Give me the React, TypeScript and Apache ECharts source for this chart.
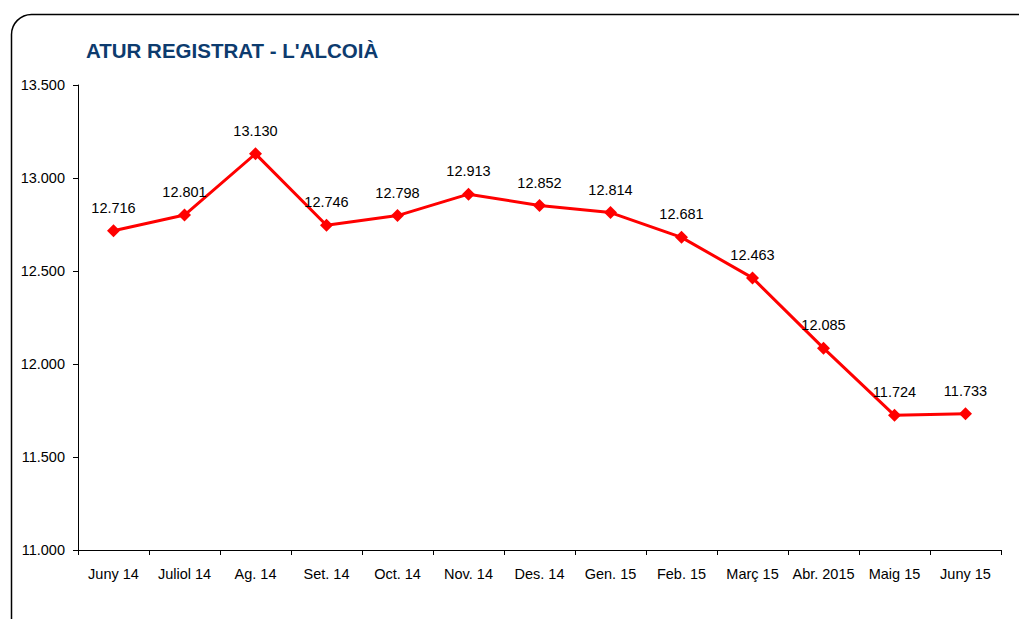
import React, { useEffect, useRef } from "react";
import * as echarts from "echarts";

const categories = [
  "Juny 14", "Juliol 14", "Ag. 14", "Set. 14", "Oct. 14", "Nov. 14", "Des. 14",
  "Gen. 15", "Feb. 15", "Març 15", "Abr. 2015", "Maig 15", "Juny 15",
];
const values = [12716, 12801, 13130, 12746, 12798, 12913, 12852, 12814, 12681, 12463, 12085, 11724, 11733];
const yMin = 11000;
const yMax = 13500;
const yInterval = 500;
const title = "ATUR REGISTRAT - L'ALCOIÀ";

const fmt = (v: number) => String(Math.round(v)).replace(/\B(?=(\d{3})+(?!\d))/g, ".");

export default function App() {
  const ref = useRef<HTMLDivElement>(null);
  useEffect(() => {
    if (!ref.current) return;
    const chart = echarts.init(ref.current, null, { renderer: "svg" });
    const font = "Arial, 'Liberation Sans', sans-serif";
    chart.setOption({
      animation: false,
      backgroundColor: "#ffffff",
      textStyle: { fontFamily: font },
      graphic: [
        {
          type: "rect",
          left: 9,
          top: 12,
          shape: { width: 1040, height: 640, r: 20 },
          style: { fill: "none", stroke: "#000000", lineWidth: 1.5 },
          silent: true,
          z: -1,
        },
        {
          type: "text",
          left: 86,
          top: 40,
          style: {
            text: title,
            fill: "#0D3B6E",
            font: `bold 20.5px ${font}`,
          },
        },
      ],
      grid: { left: 78, right: 18, top: 85, bottom: 69, containLabel: false },
      xAxis: {
        type: "category",
        data: categories,
        boundaryGap: true,
        axisLine: { lineStyle: { color: "#000000", width: 1 } },
        axisTick: { show: true, length: 5, lineStyle: { color: "#000000" } },
        axisLabel: { color: "#000000", fontSize: 14.5, margin: 16, fontFamily: font, interval: 0 },
        splitLine: { show: false },
      },
      yAxis: {
        type: "value",
        min: yMin,
        max: yMax,
        interval: yInterval,
        axisLine: { show: true, lineStyle: { color: "#000000", width: 1 } },
        axisTick: { show: true, length: 5, lineStyle: { color: "#000000" } },
        axisLabel: { color: "#000000", fontSize: 14.5, margin: 13, fontFamily: font, formatter: (v: number) => fmt(v) },
        splitLine: { show: false },
      },
      series: [
        {
          type: "line",
          data: values,
          symbol: "diamond",
          symbolSize: 13,
          lineStyle: { color: "#FF0000", width: 3 },
          itemStyle: { color: "#FF0000" },
          label: {
            show: true,
            position: "top",
            distance: 9,
            color: "#000000",
            fontSize: 14.5,
            fontFamily: font,
            formatter: (p: any) => fmt(p.value),
          },
        },
      ],
    });
    return () => chart.dispose();
  }, []);
  return (
    <div
      ref={ref}
      style={{ position: "absolute", left: 0, top: 0, width: 1019, height: 619, background: "#fff" }}
    />
  );
}
